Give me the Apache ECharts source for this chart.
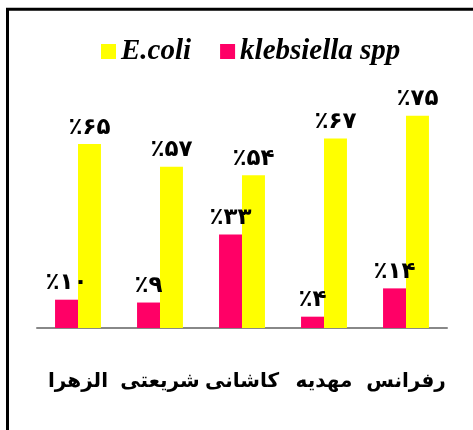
<!DOCTYPE html>
<html>
<head>
<meta charset="utf-8">
<script src="https://cdn.jsdelivr.net/npm/echarts@6/dist/echarts.min.js"></script>
<style>
  html, body { margin: 0; padding: 0; background: #fff; }
  #chart { width: 473px; height: 430px; }
</style>
</head>
<body>
<div id="chart"></div>
<script>
var categories = ['الزهرا', 'شریعتی', 'کاشانی', 'مهدیه', 'رفرانس'];
var klebsiella = [10, 9, 33, 4, 14];
var ecoli = [65, 57, 54, 67, 75];
var seriesNames = ['E.coli', 'klebsiella spp'];

var persianDigits = '۰۱۲۳۴۵۶۷۸۹';
function toPersian(n) {
  return String(n).replace(/[0-9]/g, function (d) { return persianDigits[+d]; });
}

var myChart = echarts.init(document.getElementById('chart'));

var labelStyle = {
  show: true,
  position: 'top',
  distance: 5,
  fontFamily: 'DejaVu Sans',
  fontWeight: 'bold',
  fontSize: 23,
  color: '#000',
  formatter: function (p) { return '٪' + toPersian(p.value); }
};

var option = {
  animation: false,
  graphic: [{
    type: 'polyline',
    shape: { points: [[7.5, 430], [7.5, 9.3], [473, 9.3]] },
    style: { stroke: '#000', lineWidth: 3, fill: null }
  }],
  legend: {
    data: seriesNames,
    top: 32,
    left: 96,
    itemWidth: 15,
    itemHeight: 15,
    itemGap: 29,
    icon: 'rect',
    textStyle: {
      fontFamily: 'Liberation Serif',
      fontStyle: 'italic',
      fontWeight: 'bold',
      fontSize: 29,
      color: '#000'
    }
  },
  grid: { left: 37, right: 26, top: 101.6, bottom: 102 },
  xAxis: {
    type: 'category',
    data: categories,
    axisTick: { show: false },
    axisLine: { lineStyle: { color: '#888', width: 2 } },
    axisLabel: {
      margin: 44,
      interval: 0,
      fontFamily: 'DejaVu Sans',
      fontWeight: 'bold',
      fontSize: 20,
      color: '#000'
    }
  },
  yAxis: {
    type: 'value',
    min: 0,
    max: 80,
    show: false,
    splitLine: { show: false }
  },
  series: [
    {
      name: 'klebsiella spp',
      type: 'bar',
      data: klebsiella,
      barGap: '0%',
      barCategoryGap: '44%',
      itemStyle: { color: '#FF0066' },
      label: labelStyle
    },
    {
      name: 'E.coli',
      type: 'bar',
      data: ecoli,
      itemStyle: { color: '#FFFF00' },
      label: labelStyle
    }
  ]
};
myChart.setOption(option);
</script>
</body>
</html>
